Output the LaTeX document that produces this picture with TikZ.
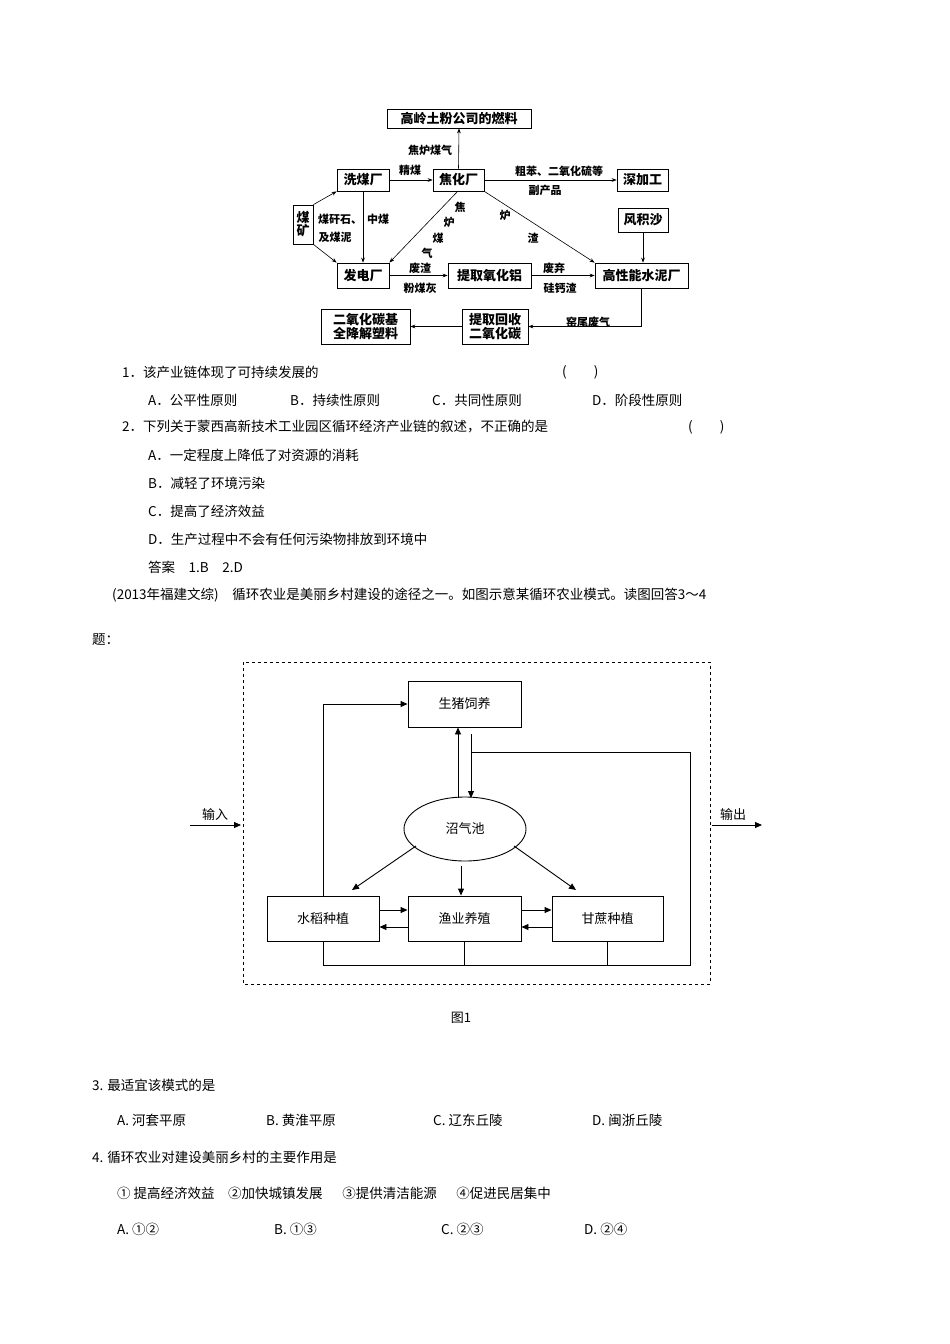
\documentclass[tikz,border=0pt]{standalone}
\usepackage{fontspec}
\setmainfont{Noto Sans CJK SC}
\usetikzlibrary{shapes.geometric,arrows.meta}
\begin{document}
\begin{tikzpicture}[x=1pt,y=-1pt,
  tb/.style={draw,line width=0.8pt,inner sep=0pt,font=\fontsize{13}{14}\selectfont\bfseries},
  tl/.style={font=\fontsize{11}{12}\selectfont\bfseries,inner sep=0pt},
  ta/.style={-{Stealth[length=5pt]},line width=0.6pt},
  bb/.style={draw,line width=0.9pt,inner sep=0pt,font=\fontsize{13}{14}\selectfont},
  ba/.style={-{Triangle[length=7pt,width=6pt]},line width=0.9pt},
  q/.style={anchor=west,inner sep=0pt,font=\fontsize{13.5}{15}\selectfont}]
\useasboundingbox[fill=white](0,0) rectangle (950,1344);
% top diagram
\node[tb,minimum width=144,minimum height=19] (gl) at (459,118.5) {高岭土粉公司的燃料};
\node[tb,minimum width=52,minimum height=22] (xm) at (363,180) {洗煤厂};
\node[tb,minimum width=51,minimum height=22] (jh) at (458.5,180) {焦化厂};
\node[tb,minimum width=51,minimum height=22] (sj) at (642.5,180) {深加工};
\node[tb,minimum width=20,minimum height=39,align=center,font=\fontsize{13}{13}\selectfont\bfseries] (mk) at (303,224.5) {煤\\矿};
\node[tb,minimum width=50,minimum height=24] (fj) at (643,220) {风积沙};
\node[tb,minimum width=52,minimum height=25] (fd) at (363,275.5) {发电厂};
\node[tb,minimum width=83,minimum height=25] (ty) at (489.5,275.5) {提取氧化铝};
\node[tb,minimum width=93,minimum height=25] (sn) at (641.5,275.5) {高性能水泥厂};
\node[tb,minimum width=89,minimum height=35,align=center] (ey) at (365.5,326.5) {二氧化碳基\\全降解塑料};
\node[tb,minimum width=66,minimum height=35,align=center] (th) at (495,326.5) {提取回收\\二氧化碳};
\draw[ta] (jh.north) -- (gl.south);
\draw[ta] (xm) -- (jh);
\draw[ta] (jh) -- (sj);
\draw[ta] (mk.north east) -- (xm.south west);
\draw[ta] (mk.south east) -- (fd.north west);
\draw[ta] (xm.south) -- (fd.north);
\coordinate (j1) at (458,191);
\draw[ta] (j1) -- (fd.north east);
\draw[ta] (jh.south east) -- (sn.north west);
\draw[ta] (fj) -- (fj|-sn.north);
\draw[ta] (fd) -- (ty);
\draw[ta] (ty) -- (sn);
\draw[ta] (sn.south) |- (th.east);
\draw[ta] (th) -- (ey);
\node[tl] (l1) at (430,150) {焦炉煤气};
\node[tl] (l2) at (410,170) {精煤};
\node[tl] (l3) at (559,171) {粗苯、二氧化硫等};
\node[tl] (l4) at (545,190) {副产品};
\node[tl] (l5) at (340,219) {煤矸石、};
\node[tl] (l6) at (335,237) {及煤泥};
\node[tl] (l7) at (378,219) {中煤};
\node[tl] (l8) at (460,207) {焦};
\node[tl] (l9) at (449,222) {炉};
\node[tl] (l10) at (438,238) {煤};
\node[tl] (l11) at (427,253) {气};
\node[tl] (l12) at (505,215) {炉};
\node[tl] (l13) at (533,238) {渣};
\node[tl] (l14) at (420,268) {废渣};
\node[tl] (l15) at (420,288) {粉煤灰};
\node[tl] (l16) at (554,268) {废弃};
\node[tl] (l17) at (560,288) {硅钙渣};
\node[tl] (l18) at (588,322) {窑尾废气};
% questions 1-2
\node[q] (q1) at (122,372) {1．该产业链体现了可持续发展的};
\node[q] (q1b) at (562,372) {(\hspace{2em})};
\node[q] (q1a) at (148,400) {A．公平性原则};
\node[q] (q1bb) at (290,400) {B．持续性原则};
\node[q] (q1c) at (432,400) {C．共同性原则};
\node[q] (q1d) at (592,400) {D．阶段性原则};
\node[q] (q2) at (122,427) {2．下列关于蒙西高新技术工业园区循环经济产业链的叙述，不正确的是};
\node[q] (q2b) at (688,427) {(\hspace{2em})};
\node[q] (q2a) at (148,455) {A．一定程度上降低了对资源的消耗};
\node[q] (q2bb) at (148,483) {B．减轻了环境污染};
\node[q] (q2c) at (148,511) {C．提高了经济效益};
\node[q] (q2d) at (148,539) {D．生产过程中不会有任何污染物排放到环境中};
\node[q] (ans) at (148,567) {答案\quad 1.B\quad 2.D};
\node[q] (intro) at (112,595) {(2013年福建文综)\quad 循环农业是美丽乡村建设的途径之一。如图示意某循环农业模式。读图回答3～4};
\node[q] (intro2) at (92,640) {题：};
% bottom diagram
\draw[dashed,line width=0.8pt] (243,662) rectangle (710,984);
\node[bb,minimum width=113,minimum height=46] (zz) at (464.5,704) {生猪饲养};
\node[bb,ellipse,minimum width=122,minimum height=64] (zq) at (465,829) {沼气池};
\node[bb,minimum width=112,minimum height=45] (sd) at (323,918.5) {水稻种植};
\node[bb,minimum width=113,minimum height=45] (yy) at (464.5,918.5) {渔业养殖};
\node[bb,minimum width=111,minimum height=45] (gz) at (607.5,918.5) {甘蔗种植};
\coordinate (u0) at (458,798);
\draw[ba] (u0) -- (u0|-zz.south);
\coordinate (d1) at (471,734);
\coordinate (d2) at (471,798);
\draw[ba] (d1) -- (d2);
\coordinate (c1) at (472,752);
\coordinate (c2) at (690,752);
\coordinate (c3) at (690,965);
\coordinate (c4) at (323,965);
\draw[line width=0.9pt] (c1) -- (c2) -- (c3) -- (c4) -- (sd.south);
\draw[line width=0.9pt] (yy.south) -- (yy.south|-c4);
\draw[line width=0.9pt] (gz.south) -- (gz.south|-c4);
\draw[ba] (sd.north) |- (zz.west);
\coordinate (e1) at (416,846);
\coordinate (e2) at (461,866);
\coordinate (e3) at (514,846);
\draw[ba] (e1) -- (352,890);
\draw[ba] (e2) -- (e2|-yy.north);
\draw[ba] (e3) -- (576,890);
\draw[ba] (sd.east|-0,910) -- (yy.west|-0,910);
\draw[ba] (yy.west|-0,927) -- (sd.east|-0,927);
\draw[ba] (yy.east|-0,910) -- (gz.west|-0,910);
\draw[ba] (gz.west|-0,927) -- (yy.east|-0,927);
\coordinate (in0) at (190,825);
\coordinate (out1) at (762,825);
\draw[ba] (in0) -- (241,825);
\draw[ba] (712,825) -- (out1);
\node[font=\fontsize{13}{14}\selectfont] (lin) at (215,815) {输入};
\node[font=\fontsize{13}{14}\selectfont] (lout) at (733,815) {输出};
\node[font=\fontsize{13}{14}\selectfont] (fig) at (461,1018) {图1};
% questions 3-4
\node[q] (q3) at (92,1085) {3. 最适宜该模式的是};
\node[q] (q3a) at (117,1120) {A.\ 河套平原};
\node[q] (q3b) at (266,1120) {B.\ 黄淮平原};
\node[q] (q3c) at (433,1120) {C.\ 辽东丘陵};
\node[q] (q3d) at (592,1120) {D.\ 闽浙丘陵};
\node[q] (q4) at (92,1157) {4. 循环农业对建设美丽乡村的主要作用是};
\node[q] (q4s) at (117,1193) {① 提高经济效益\quad ②加快城镇发展\quad\ \ ③提供清洁能源\quad\ \ ④促进民居集中};
\node[q] (q4a) at (117,1229) {A.\ ①②};
\node[q] (q4b) at (274,1229) {B.\ ①③};
\node[q] (q4c) at (441,1229) {C.\ ②③};
\node[q] (q4d) at (584,1229) {D.\ ②④};
\end{tikzpicture}
\end{document}
